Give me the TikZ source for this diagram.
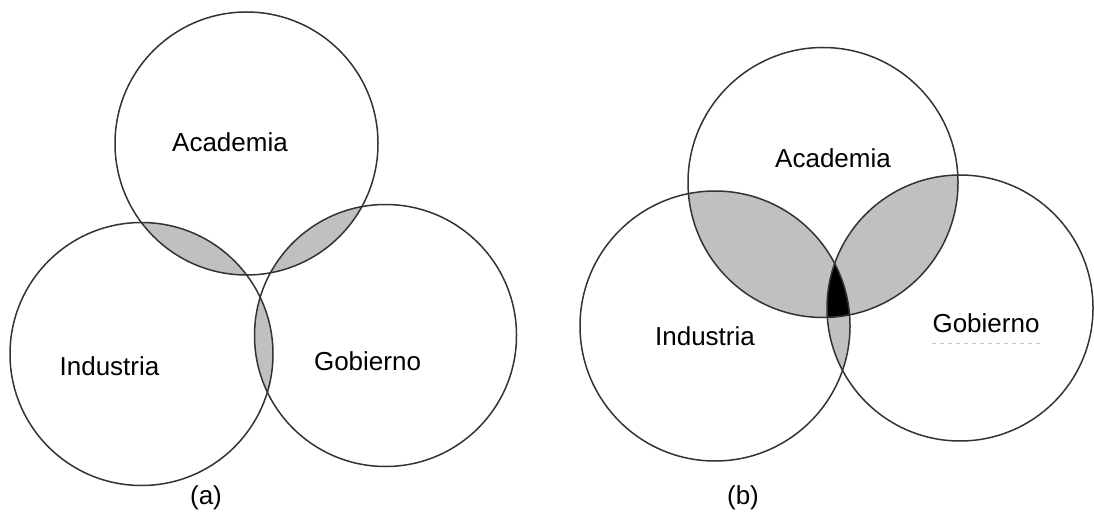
\documentclass[tikz,border=0pt]{standalone}
\usepackage{fontspec}
\setmainfont{Liberation Sans}
\usepackage{tikz}
\usetikzlibrary{positioning}
\definecolor{lensgray}{HTML}{C0C0C0}
\definecolor{rimgray}{HTML}{333333}

\tikzset{
  rim/.style={draw=rimgray, line width=1.5pt},
  lens/.style={fill=lensgray},
  sector/.style={font=\fontsize{26}{30}\selectfont, inner sep=0pt, anchor=base},
}

\begin{document}
\begin{tikzpicture}[x=1pt, y=-1pt]
\useasboundingbox (0,0) rectangle (1094,521);

% (a): three helices, pairwise overlaps only
\begin{scope}
\coordinate (acA) at (246.5,143.5);
\coordinate (inA) at (141.5,354);
\coordinate (goA) at (385.5,335.5);
\begin{scope}
\clip (acA) circle (131.5pt);
\fill[lens] (inA) circle (131.5pt);
\fill[lens] (goA) circle (131pt);
\end{scope}
\begin{scope}
\clip (inA) circle (131.5pt);
\fill[lens] (goA) circle (131pt);
\end{scope}
\draw[rim] (acA) circle (131.5pt);
\draw[rim] (inA) circle (131.5pt);
\draw[rim] (goA) circle (131pt);
\node[sector] (acAtxt) at (230,152) {Academia};
\node[sector] (inAtxt) at (109.5,375) {Industria};
\node[sector] (goAtxt) at (367.5,370) {Gobierno};
\node[sector] (capA) at (206,504) {(a)};
\end{scope}

% (b): triple helix, overlaps shaded, common core in black
\begin{scope}
\coordinate (acB) at (823,182.5);
\coordinate (inB) at (715,326);
\coordinate (goB) at (960,308);
\begin{scope}
\clip (acB) circle (135pt);
\fill[lens] (inB) circle (135pt);
\fill[lens] (goB) circle (133pt);
\end{scope}
\begin{scope}
\clip (inB) circle (135pt);
\fill[lens] (goB) circle (133pt);
\clip (goB) circle (133pt);
\fill[black] (acB) circle (135pt);
\end{scope}
\draw[rim] (acB) circle (135pt);
\draw[rim] (inB) circle (135pt);
\draw[rim] (goB) circle (133pt);
\node[sector] (acBtxt) at (833,168) {Academia};
\node[sector] (inBtxt) at (705,345) {Industria};
\node[sector] (goBtxt) at (986,332) {Gobierno};
\draw[gray!45, line width=1pt, dash pattern=on 4pt off 4pt]
  ([yshift=-11pt]goBtxt.base west) -- ([yshift=-11pt]goBtxt.base east);
\node[sector] (capB) at (743,504) {(b)};
\end{scope}
\end{tikzpicture}
\end{document}
